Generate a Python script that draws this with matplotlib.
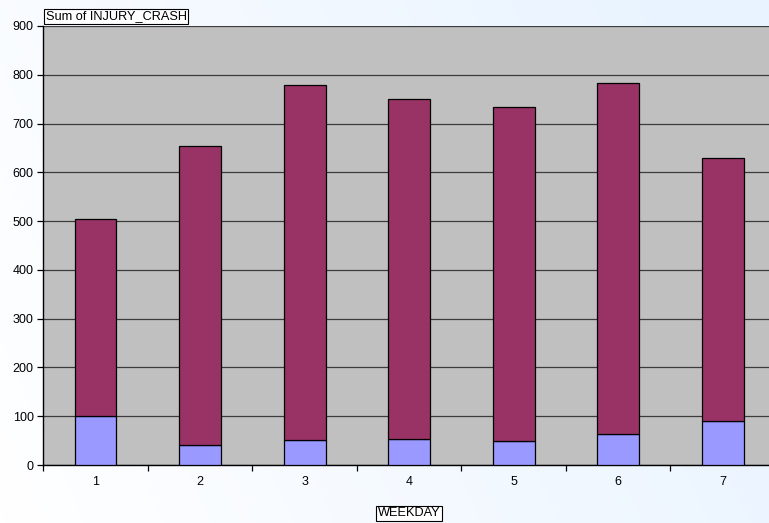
import numpy as np
import matplotlib
matplotlib.use("Agg")
import matplotlib.pyplot as plt
from matplotlib.colors import LinearSegmentedColormap

plt.rcParams['font.family'] = ['Liberation Sans', 'DejaVu Sans']

# Data
weekdays = ["1", "2", "3", "4", "5", "6", "7"]
lower_series = [101, 41, 51, 54, 49, 64, 91]
upper_series = [403, 613, 728, 697, 685, 720, 539]
y_ticks = [0, 100, 200, 300, 400, 500, 600, 700, 800, 900]

W, H = 769, 523
fig = plt.figure(figsize=(W / 100, H / 100), dpi=100)

# Soft white-to-blue background across the whole figure
bg = fig.add_axes([0, 0, 1, 1], zorder=-10)
gx = np.linspace(0, 1, 256)
gy = np.linspace(0, 1, 128)
grad = np.clip(0.8 * gx[None, :] + 0.25 * gy[:, None], 0, 1)
cmap = LinearSegmentedColormap.from_list("bg", ["#FFFFFF", "#E8F3FF"])
bg.imshow(grad, aspect="auto", cmap=cmap, extent=[0, 1, 0, 1], origin="lower")
bg.set_axis_off()

left_px, right_px, top_px, bottom_px = 43.3, 775.0, 26.0, 465.0
ax = fig.add_axes([left_px / W, (H - bottom_px) / H,
                   (right_px - left_px) / W, (bottom_px - top_px) / H])
ax.set_facecolor("#C0C0C0")

x = np.arange(1, len(weekdays) + 1)
ax.bar(x, lower_series, width=0.4, color="#9999FF", edgecolor="black",
       linewidth=0.9, zorder=3)
ax.bar(x, upper_series, width=0.4, bottom=lower_series, color="#993366",
       edgecolor="black", linewidth=0.9, zorder=3)

ax.set_xlim(0.5, len(weekdays) + 0.5)
ax.set_ylim(0, 900)
ax.set_yticks(y_ticks)
ax.set_yticklabels([str(v) for v in y_ticks])
ax.set_xticks(x)
ax.set_xticklabels(weekdays)
ax.set_xticks(np.arange(0.5, len(weekdays) + 1, 1), minor=True)

ax.yaxis.grid(True, color="#3C3C3C", linewidth=0.9, zorder=1)
ax.set_axisbelow(True)

ax.tick_params(axis="y", which="major", direction="out", length=4, width=0.9,
               labelsize=9, colors="black", pad=3)
ax.tick_params(axis="x", which="major", length=0, labelsize=9, pad=8)
ax.tick_params(axis="x", which="minor", direction="out", length=4, width=0.9)

for side in ("top", "right"):
    ax.spines[side].set_visible(False)
for side in ("left", "bottom"):
    ax.spines[side].set_color("black")
    ax.spines[side].set_linewidth(1.0)

box = dict(boxstyle="square,pad=0.15", facecolor="white", edgecolor="black",
           linewidth=0.8)
fig.text(45.5 / W, (H - 16.5) / H, "Sum of INJURY_CRASH", fontsize=9.2,
         ha="left", va="center", bbox=box)
fig.text(409 / W, (H - 513.5) / H, "WEEKDAY", fontsize=9.2,
         ha="center", va="center", bbox=box)

fig.savefig("out.png", dpi=100)
